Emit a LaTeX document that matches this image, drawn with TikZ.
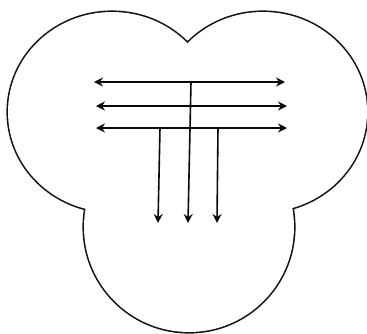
\documentclass[tikz,border=0pt]{standalone}
\usepackage{tikz}
\usetikzlibrary{arrows.meta}
\definecolor{lobeInk}{RGB}{20,20,20}
\definecolor{flowInk}{RGB}{10,10,10}
\tikzset{
  flowarrow/.style={flowInk, line width=1.6pt, >={Stealth[length=9pt,width=9pt,inset=3pt]}}
}

\begin{document}
\begin{tikzpicture}[x=1pt,y=-1pt]
\useasboundingbox (0,0) rectangle (367,333);
% three lobes: heavy rim first, white fill keeps only the outer edge
\foreach \cx/\cy/\rx/\ry in {112/112/104/100,263/112/104/100,189/227/105/105}{
  \draw[lobeInk, line width=3.2pt] (\cx,\cy) ellipse[x radius=\rx, y radius=\ry];
}
\foreach \cx/\cy/\rx/\ry in {112/112/104/100,263/112/104/100,189/227/105/105}{
  \fill[white] (\cx,\cy) ellipse[x radius=\rx, y radius=\ry];
}

\foreach \i/\y/\xl/\xr in {1/82/94/285,2/106/96/287,3/128/96/287}{
  \coordinate (hl\i) at (\xl,\y);
  \coordinate (hr\i) at (\xr,\y);
  \draw[flowarrow, <->] (hl\i) -- (hr\i);
}
\foreach \i/\xt/\yt/\xb in {1/160/128/158,2/191/82/188,3/218/128/217}{
  \coordinate (vt\i) at (\xt,\yt);
  \coordinate (vb\i) at (\xb,223);
  \draw[flowarrow, ->] (vt\i) -- (vb\i);
}
\end{tikzpicture}
\end{document}
